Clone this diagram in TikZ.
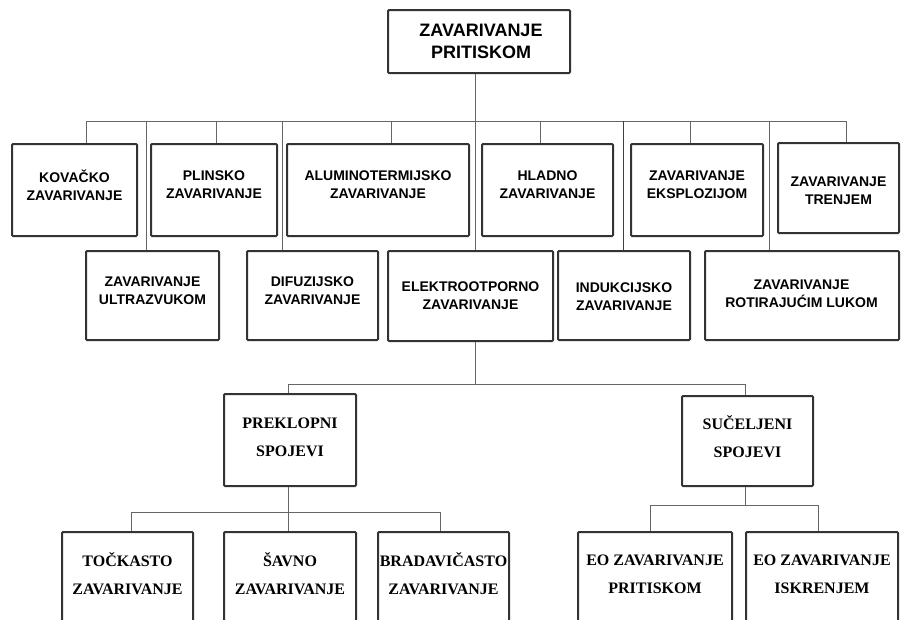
\documentclass[tikz,border=0pt]{standalone}
\usepackage{fontspec}
\setmainfont{Liberation Sans}
\newfontfamily\serifb{Liberation Serif}
\usetikzlibrary{calc}
\tikzset{
  box/.style={draw=black!80, line width=2pt, fill=white, rounded corners=1pt, inner sep=0pt},
  conn/.style={draw=black!60, line width=1pt},
  sanst/.style={align=center, font=\fontsize{14}{18}\selectfont\bfseries, inner sep=0pt, text=black},
  rootst/.style={align=center, font=\fontsize{18}{22}\selectfont\bfseries, inner sep=0pt, text=black},
  serift/.style={align=center, font=\serifb\fontsize{16}{28}\selectfont\bfseries, inner sep=0pt, text=black},
}
\newcommand\mybox[5]{\node[box, minimum width={#4pt-#2pt}, minimum height={#5pt-#3pt}] (#1) at ({(#2+#4)/2},{(#3+#5)/2}) {};}
\begin{document}
\begin{tikzpicture}[x=1pt,y=-1pt]
\useasboundingbox (0,0) rectangle (902,619);
\clip (0,0) rectangle (902,619);
\fill[white] (0,0) rectangle (902,619);
% boxes
\mybox{root}{388}{10}{570}{73}
\mybox{kova}{12}{144}{137}{236}
\mybox{plin}{151}{144}{277}{236}
\mybox{alum}{287}{144}{469}{236}
\mybox{hlad}{482}{144}{613}{236}
\mybox{eksp}{631}{144}{763}{236}
\mybox{tren}{778}{143}{899}{233}
\mybox{ultra}{86}{251}{219}{340}
\mybox{difu}{247}{251}{378}{340}
\mybox{elek}{388}{251}{553}{341}
\mybox{indu}{558}{251}{690}{340}
\mybox{roti}{705}{251}{899}{340}
\mybox{prek}{224}{394}{356}{486}
\mybox{suce}{682}{396}{813}{486}
\mybox{tock}{62}{532}{193}{640}
\mybox{savn}{224}{532}{356}{640}
\mybox{brad}{378}{532}{509}{640}
\mybox{eopr}{578}{532}{732}{640}
\mybox{eois}{746}{532}{898}{640}
% texts
\node[rootst] (rootT) at (481,41) {ZAVARIVANJE\\PRITISKOM};
\node[sanst] (kovaT) at (74.5,185) {KOVAČKO\\ZAVARIVANJE};
\node[sanst] (plinT) at (214,185) {PLINSKO\\ZAVARIVANJE};
\node[sanst] (alumT) at (378,185) {ALUMINOTERMIJSKO\\ZAVARIVANJE};
\node[sanst] (hladT) at (547.5,185) {HLADNO\\ZAVARIVANJE};
\node[sanst] (ekspT) at (697,185) {ZAVARIVANJE\\EKSPLOZIJOM};
\node[sanst] (trenT) at (838.5,191) {ZAVARIVANJE\\TRENJEM};
\node[sanst] (ultraT) at (152.5,291) {ZAVARIVANJE\\ULTRAZVUKOM};
\node[sanst] (difuT) at (312.5,291) {DIFUZIJSKO\\ZAVARIVANJE};
\node[sanst] (elekT) at (470.5,296) {ELEKTROOTPORNO\\ZAVARIVANJE};
\node[sanst] (induT) at (624,297) {INDUKCIJSKO\\ZAVARIVANJE};
\node[sanst] (rotiT) at (801.5,294) {ZAVARIVANJE\\ROTIRAJUĆIM LUKOM};
\node[serift] (prekT) at (290,437) {PREKLOPNI\\SPOJEVI};
\node[serift] (suceT) at (747.5,437) {SUČELJENI\\SPOJEVI};
\node[serift] (tockT) at (127.5,574) {TOČKASTO\\ZAVARIVANJE};
\node[serift] (savnT) at (290,574) {ŠAVNO\\ZAVARIVANJE};
\node[serift] (bradT) at (443.5,574) {BRADAVIČASTO\\ZAVARIVANJE};
\node[serift] (eoprT) at (655,574) {EO ZAVARIVANJE\\PRITISKOM};
\node[serift] (eoisT) at (822,574) {EO ZAVARIVANJE\\ISKRENJEM};
% level 1 connectors
\coordinate (tE) at (475,121);
\coordinate (busL) at (86,121);
\coordinate (busR) at (846,121);
\draw[conn] (busL) -- (busR);
\draw[conn] (tE |- root.south) -- (tE |- elek.north);
\coordinate (tP) at (216,121);
\coordinate (tA) at (391,121);
\coordinate (tH) at (540,121);
\coordinate (tX) at (690,121);
\coordinate (tU) at (146,121);
\coordinate (tD) at (282,121);
\coordinate (tI) at (623,121);
\coordinate (tR) at (769,121);
\draw[conn] (busL) -- (busL |- kova.north);
\draw[conn] (tP) -- (tP |- plin.north);
\draw[conn] (tA) -- (tA |- alum.north);
\draw[conn] (tH) -- (tH |- hlad.north);
\draw[conn] (tX) -- (tX |- eksp.north);
\draw[conn] (busR) -- (busR |- tren.north);
\draw[conn] (tU) -- (tU |- ultra.north);
\draw[conn] (tD) -- (tD |- difu.north);
\draw[conn, draw=black!75] (tI) -- (tI |- indu.north);
\draw[conn] (tR) -- (tR |- roti.north);
% level 2
\coordinate (b2) at (475,384);
\coordinate (b2L) at (288,384);
\coordinate (b2R) at (745,384);
\draw[conn] (b2 |- elek.south) -- (b2);
\draw[conn] (b2L) -- (b2R);
\draw[conn] (b2L) -- (b2L |- prek.north);
\draw[conn] (b2R) -- (b2R |- suce.north);
% level 3 left
\coordinate (b3) at (288,512);
\coordinate (b3L) at (131,512);
\coordinate (b3R) at (440,512);
\draw[conn] (b3 |- prek.south) -- (b3);
\draw[conn] (b3L) -- (b3R);
\draw[conn] (b3L) -- (b3L |- tock.north);
\draw[conn] (b3) -- (b3 |- savn.north);
\draw[conn] (b3R) -- (b3R |- brad.north);
% level 3 right
\coordinate (b4) at (745,505);
\coordinate (b4L) at (650,505);
\coordinate (b4R) at (818,505);
\draw[conn] (b4 |- suce.south) -- (b4);
\draw[conn] (b4L) -- (b4R);
\draw[conn] (b4L) -- (b4L |- eopr.north);
\draw[conn] (b4R) -- (b4R |- eois.north);
\end{tikzpicture}
\end{document}
